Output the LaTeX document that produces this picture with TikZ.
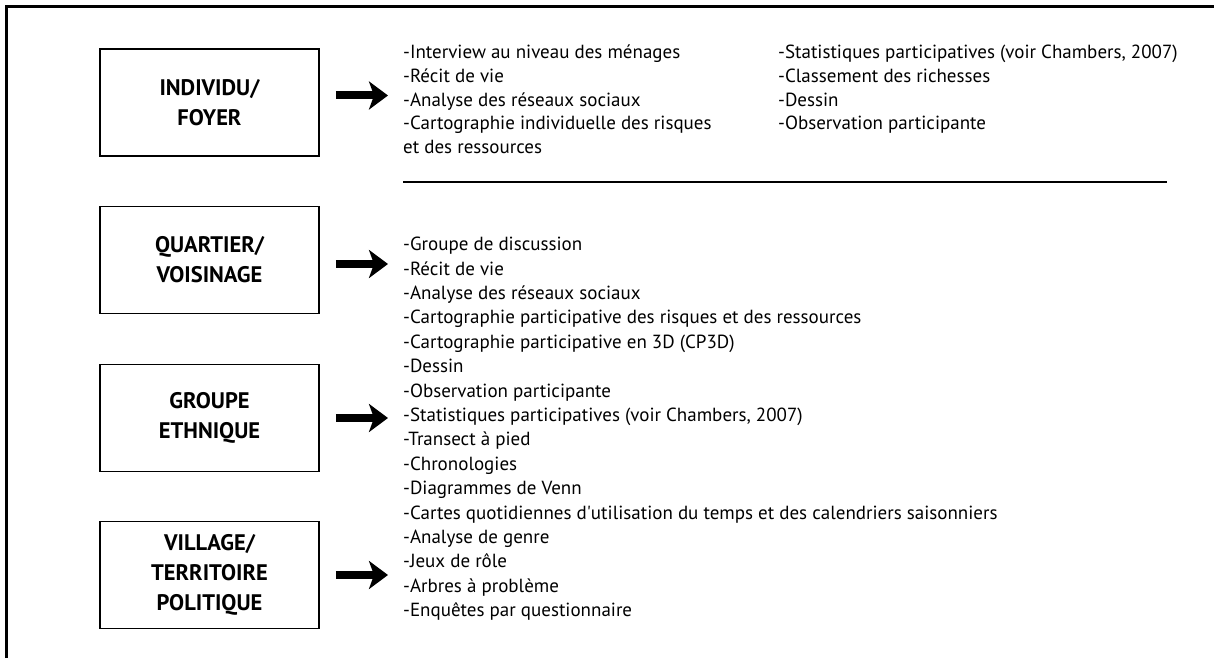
\documentclass[tikz,border=0pt]{standalone}
\usepackage{fontspec}
\setmainfont{PT Sans}
\usetikzlibrary{arrows.meta}

\begin{document}
\begin{tikzpicture}[x=1pt, y=-1pt,
  levelbox/.style={draw, line width=1.6pt, minimum width=219pt, minimum height=107pt,
                   inner sep=0pt, align=center,
                   font=\bfseries\fontsize{22.5}{30}\selectfont},
  methods/.style={anchor=north west, inner sep=0pt, align=left,
                  font=\fontsize{19}{24.4}\selectfont},
  bigarrow/.style={line width=8pt, -{Stealth[length=19pt, width=28pt, inset=5pt]},
                   shorten <=16pt, shorten >=15pt},
]
\useasboundingbox (0,0) rectangle (1214,658);

% frame (only top and left edges show)
\draw[line width=2.5pt] (6.5,658) -- (6.5,6.5) -- (1214,6.5);

% levels
\node[levelbox] (ind) at (209.5, 102.5) {INDIVIDU/\\FOYER};
\node[levelbox] (qua) at (209.5, 260) {QUARTIER/\\VOISINAGE};
\node[levelbox] (grp) at (209.5, 418) {GROUPE\\ETHNIQUE};
\node[levelbox] (vil) at (209.5, 575) {VILLAGE/\\TERRITOIRE\\POLITIQUE};

% methods for the household level
\node[methods, font=\fontsize{19}{23.7}\selectfont] (indlist) at (403, 45) {%
  -Interview au niveau des ménages\\
  -Récit de vie\\
  -Analyse des réseaux sociaux\\
  -Cartographie individuelle des risques\\
  et des ressources};
\node[methods, font=\fontsize{19}{23.7}\selectfont] (indlist2) at (778, 45) {%
  -Statistiques participatives (voir Chambers, 2007)\\
  -Classement des richesses\\
  -Dessin\\
  -Observation participante};

\draw[line width=1.8pt] (403,182) -- (1167,182);

% methods for the collective levels
\node[methods] (grplist) at (403, 237) {%
  -Groupe de discussion\\
  -Récit de vie\\
  -Analyse des réseaux sociaux\\
  -Cartographie participative des risques et des ressources\\
  -Cartographie participative en 3D (CP3D)\\
  -Dessin\\
  -Observation participante\\
  -Statistiques participatives (voir Chambers, 2007)\\
  -Transect à pied\\
  -Chronologies\\
  -Diagrammes de Venn\\
  -Cartes quotidiennes d\textquotesingle utilisation du temps et des calendriers saisonniers\\
  -Analyse de genre\\
  -Jeux de rôle\\
  -Arbres à problème\\
  -Enquêtes par questionnaire};

% arrows
\draw[bigarrow] ([yshift=7pt]ind.east) -- ([yshift=7pt]ind.east -| indlist.west);
\draw[bigarrow] ([yshift=-4pt]qua.east) -- ([yshift=-4pt]qua.east -| grplist.west);
\draw[bigarrow] (grp.east) -- (grp.east -| grplist.west);
\draw[bigarrow] (vil.east) -- (vil.east -| grplist.west);

\end{tikzpicture}
\end{document}
